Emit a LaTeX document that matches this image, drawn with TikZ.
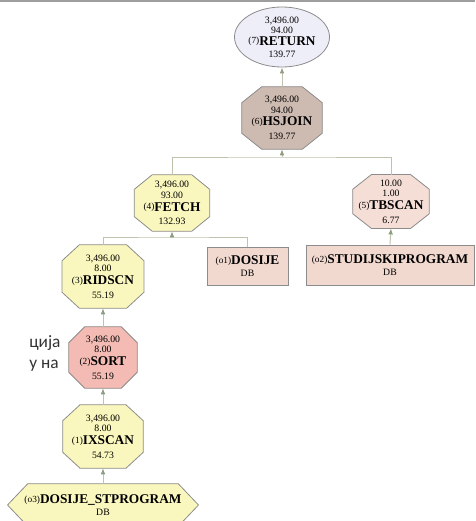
\documentclass[tikz,border=0pt]{standalone}
\usepackage{fontspec}
\setmainfont{Liberation Serif}
\newfontfamily\slidefont{Carlito}
\usetikzlibrary{shapes.geometric,arrows.meta,backgrounds}
\definecolor{bordergray}{HTML}{8C8C8C}
\definecolor{connline}{HTML}{BFC3AE}
\definecolor{conntip}{HTML}{8E9C80}
\definecolor{fillret}{HTML}{EEEEF8}
\definecolor{fillhs}{HTML}{CDBAB1}
\definecolor{fillyel}{HTML}{FAF7BE}
\definecolor{fillpink}{HTML}{F4DED6}
\definecolor{filldb}{HTML}{F2D9CF}
\definecolor{fillsort}{HTML}{F3BBB3}
\newcommand\opnum[1]{\raisebox{1pt}{\fontsize{7}{7}\selectfont(#1)}}
\newcommand\opname[1]{{\fontsize{10}{10}\selectfont\bfseries #1}}
% octagon / hexagon outline drawn behind a named node: name, chamfer x, chamfer y, fill
\newcommand\octshape[4]{%
  \begin{scope}[on background layer]
  \draw[draw=bordergray, line width=0.6pt, fill=#4]
    ([xshift=#2]#1.north west) -- ([xshift=-#2]#1.north east)
    -- ([yshift=-#3]#1.north east) -- ([yshift=#3]#1.south east)
    -- ([xshift=-#2]#1.south east) -- ([xshift=#2]#1.south west)
    -- ([yshift=#3]#1.south west) -- ([yshift=-#3]#1.north west) -- cycle;
  \end{scope}}
\tikzset{
  opbase/.style={align=center, inner sep=0pt, font=\fontsize{7.3}{8}\selectfont},
  optext/.style={opbase, rectangle, draw=none},
  dbbox/.style={opbase, rectangle, draw=bordergray, line width=0.6pt, fill=filldb},
  conn/.style={draw=connline, line width=0.75pt},
  arr/.style={conn, -{Latex[length=4.5pt,width=3.5pt,fill=conntip,color=conntip]}},
}
\begin{document}
\begin{tikzpicture}[x=0.75pt,y=-0.75pt]
\useasboundingbox (0,0) rectangle (475,521);
\draw[color=black!38, line width=1.1pt] (0,1) -- (475,1);

% slide text fragments
\node[anchor=base west, inner sep=0pt, text=black!80, font=\slidefont\fontsize{13}{15}\selectfont] (s1) at (29,347) {ција};
\node[anchor=base west, inner sep=0pt, text=black!80, font=\slidefont\fontsize{13}{15}\selectfont] (s2) at (29,368) {у на};

% operators
\node[opbase, font=\fontsize{7.3}{7.6}\selectfont, ellipse, draw=bordergray, line width=0.6pt, fill=fillret, minimum width=64.5pt, minimum height=45pt] (ret) at (282,37)
  {3,496.00\\94.00\\[1.3pt]\opnum{7}\opname{RETURN}\\[1.3pt]139.77};
\node[optext, minimum width=60pt, minimum height=46.5pt] (hs) at (282,118)
  {3,496.00\\94.00\\[1.5pt]\opnum{6}\opname{HSJOIN}\\[2.4pt]139.77};
\octshape{hs}{15pt}{12pt}{fillhs}
\node[optext, minimum width=56.25pt, minimum height=42pt] (fetch) at (172,203)
  {3,496.00\\93.00\\[1.5pt]\opnum{4}\opname{FETCH}\\[2.2pt]132.93};
\octshape{fetch}{13.5pt}{11pt}{fillyel}
\node[optext, minimum width=57pt, minimum height=40pt] (tb) at (391,201.5)
  {10.00\\1.00\\[1.5pt]\opnum{5}\opname{TBSCAN}\\[2.2pt]6.77};
\octshape{tb}{14pt}{11pt}{fillpink}
\node[optext, minimum width=61pt, minimum height=47.25pt] (rid) at (103,276.5)
  {3,496.00\\8.00\\[1.5pt]\opnum{3}\opname{RIDSCN}\\[2.2pt]55.19};
\octshape{rid}{13pt}{12pt}{fillyel}
\node[optext, minimum width=51pt, minimum height=45.75pt] (sort) at (103,357.5)
  {3,496.00\\8.00\\[1.5pt]\opnum{2}\opname{SORT}\\[2.2pt]55.19};
\octshape{sort}{12pt}{12pt}{fillsort}
\node[optext, minimum width=60pt, minimum height=47.25pt] (ix) at (103,436.5)
  {3,496.00\\8.00\\[1.5pt]\opnum{1}\opname{IXSCAN}\\[2.2pt]54.73};
\octshape{ix}{13pt}{12pt}{fillyel}

% data objects
\node[dbbox, minimum width=60.75pt, minimum height=28.5pt] (dos) at (247.5,266)
  {\opnum{o1}\opname{DOSIJE}\\[0.5pt]DB};
\node[dbbox, minimum width=126pt, minimum height=30pt] (stp) at (390,265)
  {\opnum{o2}\opname{STUDIJSKIPROGRAM}\\[0.5pt]DB};
\node[optext, minimum width=142.5pt, minimum height=31.5pt] (dsp) at (103,505)
  {\opnum{o3}\opname{DOSIJE\_STPROGRAM}\\[0.5pt]DB};
\octshape{dsp}{15pt}{15.75pt}{fillyel}

% joins
\coordinate (j0) at (282,157);
\coordinate (j1) at (172,237);

% connectors
\draw[arr] (hs.north) -- (ret.south);
\draw[conn] (fetch.north) |- (j0) -| (tb.north);
\draw[arr] (j0) -- (hs.south);
\draw[conn] (rid.north) |- (j1) -| (dos.north);
\draw[arr] (j1) -- (fetch.south);
\draw[arr] (stp.north) -- (tb.south);
\draw[arr] (sort.north) -- (rid.south);
\draw[arr] (ix.north) -- (sort.south);
\draw[arr] (dsp.north) -- (ix.south);
\end{tikzpicture}
\end{document}
